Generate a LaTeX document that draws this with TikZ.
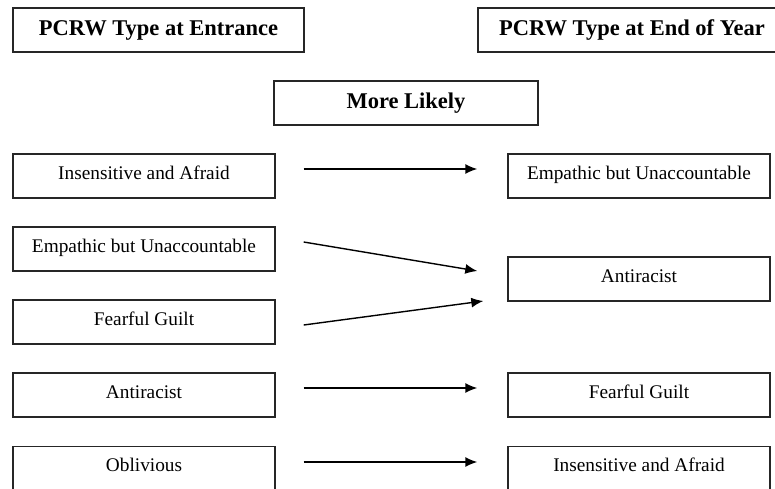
\documentclass[tikz,border=0pt]{standalone}
\usepackage{fontspec}
\setmainfont{Liberation Serif}
\usetikzlibrary{arrows.meta,calc}
\tikzset{
  box/.style={draw=black!85, line width=1.4pt, rectangle, minimum width=262pt, minimum height=44pt,
    inner sep=0pt, font=\fontsize{19.3pt}{22pt}\selectfont, text height=13pt, text depth=7pt},
  headbox/.style={draw=black!85, line width=1.4pt, rectangle, minimum height=44pt,
    inner sep=0pt, font=\fontsize{22.5pt}{26pt}\selectfont\bfseries, text height=16pt, text depth=4pt},
  conn/.style={line width=1.4pt, -{Latex[length=12pt,width=10pt]}}
}
\begin{document}
\begin{tikzpicture}[x=1pt,y=-1pt]
\useasboundingbox (0,0) rectangle (775,489);
% headings
\node[headbox, minimum width=291pt] (hl) at (158.5,30) {PCRW Type at Entrance};
\node[headbox, minimum width=308pt] (hr) at (632,30) {PCRW Type at End of Year};
\node[headbox, minimum width=264pt] (ml) at (406,103) {More Likely};
% left column
\node[box] (l1) at (144,176) {Insensitive and Afraid};
\node[box] (l2) at (144,249) {Empathic but Unaccountable};
\node[box] (l3) at (144,322) {Fearful Guilt};
\node[box] (l4) at (144,395) {Antiracist};
\node[box] (l5) at (144,468.5) {Oblivious};
% right column
\node[box] (r1) at (639,176) {Empathic but Unaccountable};
\node[box] (r2) at (639,279) {Antiracist};
\node[box] (r3) at (639,395) {Fearful Guilt};
\node[box] (r4) at (639,468.5) {Insensitive and Afraid};
% connector end points
\coordinate (s1) at ([xshift=28pt,yshift=7pt]l1.east);
\coordinate (e1) at ([xshift=-30pt,yshift=7pt]r1.west);
\coordinate (s2) at ([xshift=28pt,yshift=7pt]l2.east);
\coordinate (e2) at ([xshift=-30pt,yshift=8pt]r2.west);
\coordinate (s3) at ([xshift=28pt,yshift=-3pt]l3.east);
\coordinate (e3) at ([xshift=-24pt,yshift=-22pt]r2.west);
\coordinate (s4) at ([xshift=28pt,yshift=7pt]l4.east);
\coordinate (e4) at ([xshift=-30pt,yshift=7pt]r3.west);
\coordinate (s5) at ([xshift=28pt,yshift=6.5pt]l5.east);
\coordinate (e5) at ([xshift=-30pt,yshift=6.5pt]r4.west);
\draw[conn] (s1) -- (e1);
\draw[conn] (s2) -- (e2);
\draw[conn] (s3) -- (e3);
\draw[conn] (s4) -- (e4);
\draw[conn] (s5) -- (e5);
\end{tikzpicture}
\end{document}
